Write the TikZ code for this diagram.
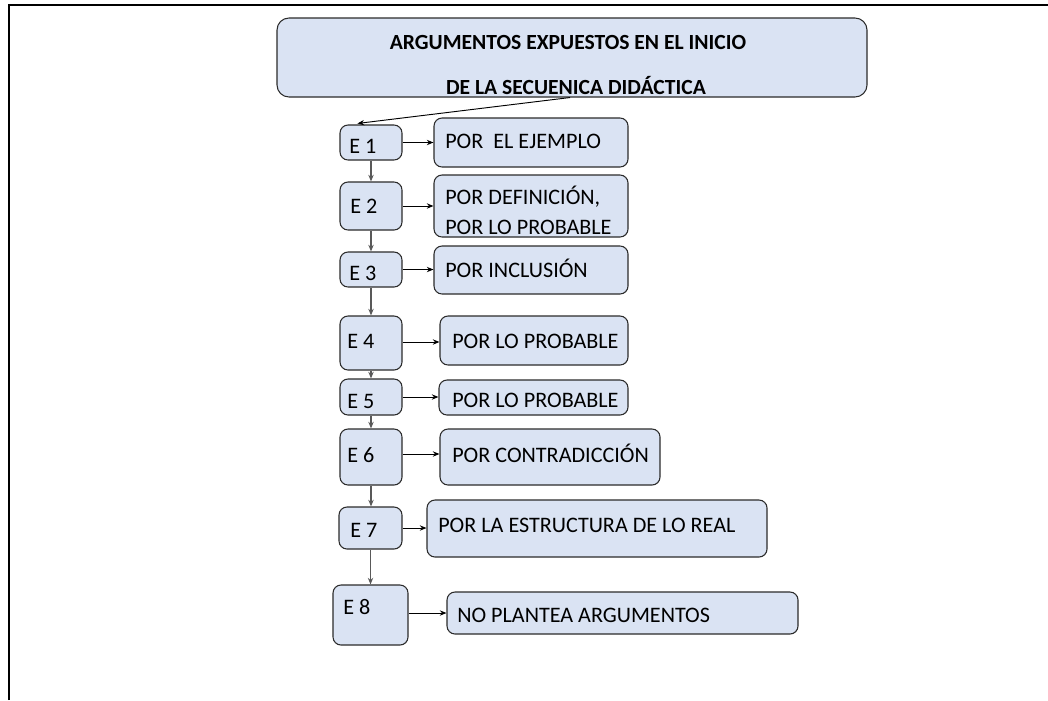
\documentclass[tikz,border=0pt]{standalone}
\usepackage{fontspec}
\setmainfont{Carlito}
\usetikzlibrary{fit,calc,arrows.meta}
\definecolor{boxfill}{HTML}{DAE3F3}
\definecolor{boxline}{HTML}{2B2B2B}
\tikzset{
  box/.style={draw=boxline, fill=boxfill, line width=0.8pt, rounded corners=6pt, inner sep=0pt},
  lbl/.style={anchor=west, inner sep=0pt, font=\fontsize{16.6}{19}\selectfont, text=black},
  ttl/.style={anchor=center, inner sep=0pt, font=\fontsize{16.2}{19}\selectfont\bfseries, text=black},
  harr/.style={draw=black, line width=0.7pt, -{Stealth[length=5pt,width=4pt]}},
  varr/.style={draw=black!65, line width=0.9pt, -{Stealth[length=5pt,width=4pt]}},
  frame/.style={draw=black, line width=2pt}
}
\begin{document}
\begin{tikzpicture}[x=0.75pt,y=-0.75pt]
\useasboundingbox (0,0) rectangle (1048,700);
% frame
\coordinate (fa) at (9,700);
\coordinate (fb) at (9,5);
\coordinate (fc) at (1048,5);
\draw[frame] (fa) -- (fb) -- (fc);
% title
\node[box, rounded corners=9pt, fit={(277,18)(867,97)}] (title) {};
\node[ttl] (t1) at (568,42) {ARGUMENTOS EXPUESTOS EN EL INICIO};
\node[ttl] (t2) at (576,86) {DE LA SECUENICA DIDÁCTICA};
% E boxes
\node[box, fit={(340,125)(402,160)}] (e1) {};
\node[box, fit={(340,182)(402,230)}] (e2) {};
\node[box, fit={(340,252)(402,287)}] (e3) {};
\node[box, fit={(340,316)(402,370)}] (e4) {};
\node[box, fit={(340,379)(402,415)}] (e5) {};
\node[box, fit={(340,429)(402,485)}] (e6) {};
\node[box, fit={(339,507)(402,549)}] (e7) {};
\node[box, fit={(333,585)(408,645)}] (e8) {};
\node[lbl] (e1t) at (349,146) {E 1};
\node[lbl] (e2t) at (350,206) {E 2};
\node[lbl] (e3t) at (349,273) {E 3};
\node[lbl] (e4t) at (347,341) {E 4};
\node[lbl] (e5t) at (347,401) {E 5};
\node[lbl] (e6t) at (347,455) {E 6};
\node[lbl] (e7t) at (350,530) {E 7};
\node[lbl] (e8t) at (343,607) {E 8};
% result boxes
\node[box, fit={(434,118)(628,167)}] (r1) {};
\node[box, fit={(434,175)(628,237)}] (r2) {};
\node[box, fit={(434,246)(628,294)}] (r3) {};
\node[box, fit={(440,316)(628,365)}] (r4) {};
\node[box, fit={(439,380)(628,415)}] (r5) {};
\node[box, fit={(440,429)(660,485)}] (r6) {};
\node[box, fit={(427,500)(767,557)}] (r7) {};
\node[box, fit={(447,592)(798,634)}] (r8) {};
\node[lbl] (r1t) at (445,141) {POR\ \ EL EJEMPLO};
\node[lbl] (r2t) at (445,197) {POR DEFINICIÓN,};
\node[lbl] (r2u) at (445,227) {POR LO PROBABLE};
\node[lbl] (r3t) at (445,268) {POR INCLUSIÓN};
\node[lbl] (r4t) at (452,341) {POR LO PROBABLE};
\node[lbl] (r5t) at (452,400) {POR LO PROBABLE};
\node[lbl] (r6t) at (452,453) {POR CONTRADICCIÓN};
\node[lbl] (r7t) at (438,525) {POR LA ESTRUCTURA DE LO REAL};
\node[lbl] (r8t) at (457,615) {NO PLANTEA ARGUMENTOS};
% title connector
\draw[harr] ($(title.south)+(-2,0)$) -- ($(e1.north west)+(18,-1)$);
% horizontal connectors
\foreach \i in {1,2,3,5,7} {
  \draw[harr] (e\i.east) -- (e\i.east -| r\i.west);
}
\draw[harr] ($(e4.east)+(0,-1)$) -- ($(e4.east -| r4.west)+(0,-1)$);
\draw[harr] ($(e6.east)+(0,-3)$) -- ($(e6.east -| r6.west)+(0,-3)$);
\draw[harr] ($(e8.east)+(0,-2)$) -- ($(e8.east -| r8.west)+(0,-2)$);
% vertical connectors
\foreach \a/\b in {1/2,2/3,3/4,4/5,5/6,6/7,7/8} {
  \draw[varr] (e\a.south) -- (e\a.south |- e\b.north);
}
\end{tikzpicture}
\end{document}
